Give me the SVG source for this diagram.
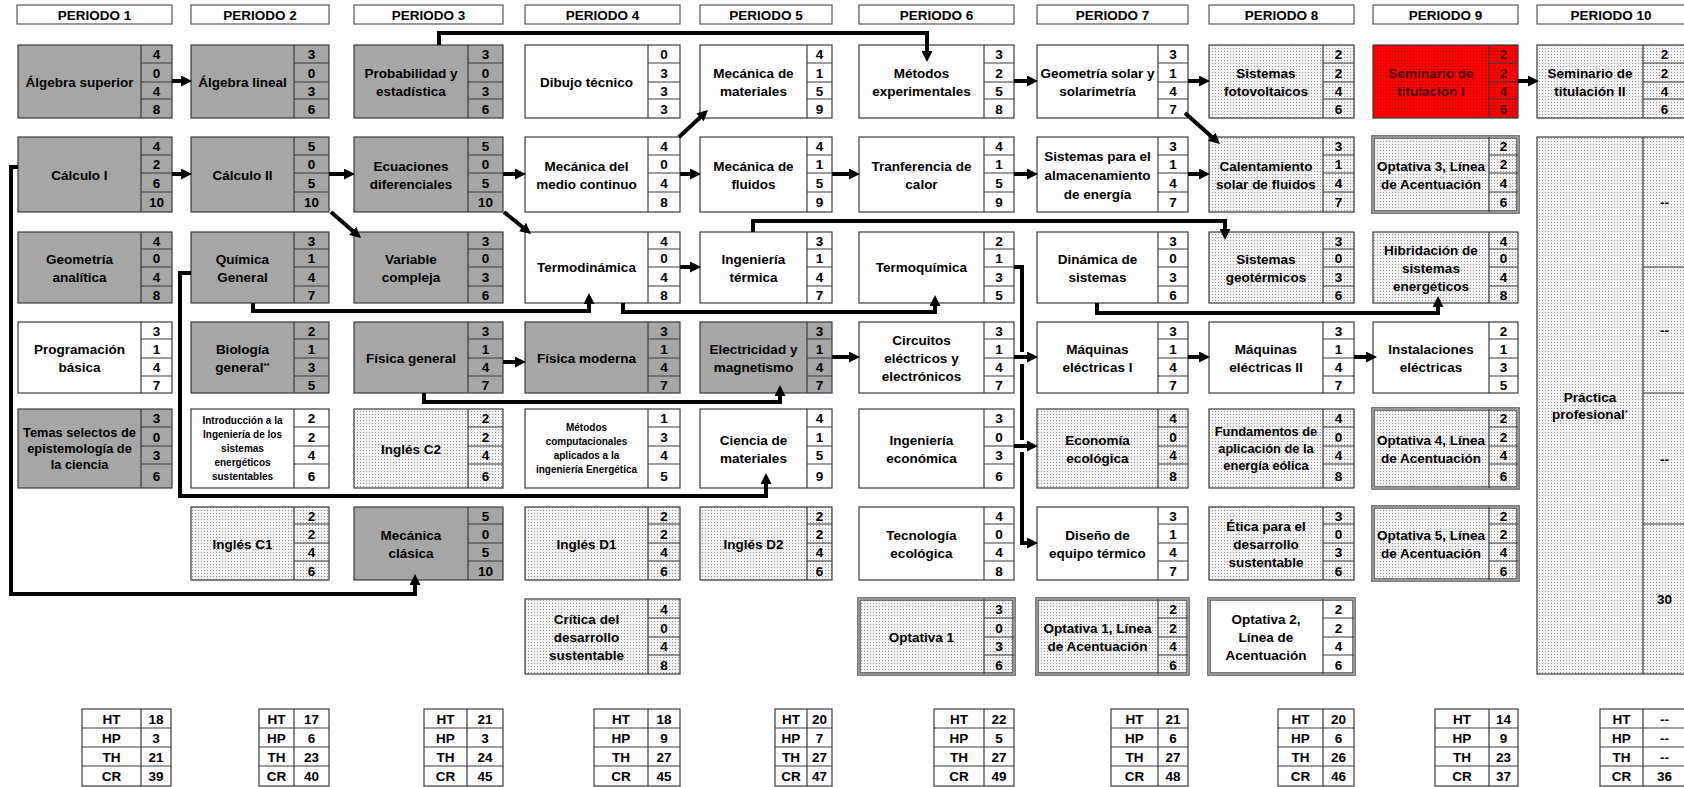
<svg xmlns="http://www.w3.org/2000/svg" width="1684" height="787" viewBox="0 0 1684 787">
<defs>
<pattern id="dots" width="3" height="3" patternUnits="userSpaceOnUse"><rect width="3" height="3" fill="#f3f3f3"/><rect width="1" height="1" fill="#939393"/></pattern>
<pattern id="reddots" width="3" height="3" patternUnits="userSpaceOnUse"><rect width="3" height="3" fill="#ff0000"/><rect width="1" height="1" fill="#b00000"/></pattern>
<marker id="ah" markerUnits="userSpaceOnUse" viewBox="0 0 11 11" markerWidth="11" markerHeight="11" refX="7" refY="5.5" orient="auto"><path d="M0 0L11 5.5L0 11z" fill="#000"/></marker>
</defs>
<style>
text{font-family:"Liberation Sans",Arial,Helvetica,sans-serif;font-weight:bold;font-size:13.5px;text-anchor:middle;fill:#000}
.sm{font-size:10px}
.md{font-size:12.8px}
.rt{fill:#4a0000}
.b{stroke:#3a3a3a;stroke-width:1.2}
.g{fill:#a6a6a6}
.w{fill:#fff}
.d{fill:url(#dots)}
.r{fill:url(#reddots)}
.grid{fill:none;stroke:#3a3a3a;stroke-width:1.2}
.dbl{stroke:#5a5a5a;stroke-width:3.6}
.dbl2{fill:none;stroke:#c4c4c4;stroke-width:1.1}
.hd{fill:#fff;stroke:#555;stroke-width:1.2}
.st{fill:#fff;stroke:#3a3a3a;stroke-width:1.2}
.conn path{fill:none;stroke:#000;stroke-width:4;stroke-linejoin:miter}
.conn .a{marker-end:url(#ah)}
</style>
<rect width="1684" height="787" fill="#fff"/>

<g id="headers">
<g id="periodo-1"><rect class="hd" x="17" y="5" width="155" height="19"/><text x="94.5" y="19.5">PERIODO 1</text></g>
<g id="periodo-2"><rect class="hd" x="191" y="5" width="138" height="19"/><text x="260" y="19.5">PERIODO 2</text></g>
<g id="periodo-3"><rect class="hd" x="354" y="5" width="149" height="19"/><text x="428.5" y="19.5">PERIODO 3</text></g>
<g id="periodo-4"><rect class="hd" x="525" y="5" width="155" height="19"/><text x="602.5" y="19.5">PERIODO 4</text></g>
<g id="periodo-5"><rect class="hd" x="700" y="5" width="132" height="19"/><text x="766" y="19.5">PERIODO 5</text></g>
<g id="periodo-6"><rect class="hd" x="859" y="5" width="155" height="19"/><text x="936.5" y="19.5">PERIODO 6</text></g>
<g id="periodo-7"><rect class="hd" x="1037" y="5" width="151" height="19"/><text x="1112.5" y="19.5">PERIODO 7</text></g>
<g id="periodo-8"><rect class="hd" x="1209" y="5" width="145" height="19"/><text x="1281.5" y="19.5">PERIODO 8</text></g>
<g id="periodo-9"><rect class="hd" x="1373" y="5" width="145" height="19"/><text x="1445.5" y="19.5">PERIODO 9</text></g>
<g id="periodo-10"><rect class="hd" x="1537" y="5" width="148" height="19"/><text x="1611" y="19.5">PERIODO 10</text></g>
</g>

<!-- Column 1 -->
<g id="algebra-superior"><rect class="b g" x="18" y="45" width="154" height="73"/><path class="grid" d="M141 45V118M141 63H172M141 82H172M141 99H172"/><text x="79.5" y="86.5">Álgebra superior</text><text><tspan x="156.5" y="59">4</tspan><tspan x="156.5" y="77.5">0</tspan><tspan x="156.5" y="95.5">4</tspan><tspan x="156.5" y="113.5">8</tspan></text></g>
<g id="calculo-1"><rect class="b g" x="18" y="137" width="154" height="75"/><path class="grid" d="M141 137V212M141 155H172M141 173H172M141 192H172"/><text x="79.5" y="179.5">Cálculo I</text><text><tspan x="156.5" y="151">4</tspan><tspan x="156.5" y="169">2</tspan><tspan x="156.5" y="187.5">6</tspan><tspan x="156.5" y="207">10</tspan></text></g>
<g id="geometria-analitica"><rect class="b g" x="18" y="232" width="154" height="71"/><path class="grid" d="M141 232V303M141 249H172M141 267H172M141 286H172"/><text><tspan x="79.5" y="263.5">Geometría</tspan><tspan x="79.5" y="281.5">analítica</tspan></text><text><tspan x="156.5" y="245.5">4</tspan><tspan x="156.5" y="263">0</tspan><tspan x="156.5" y="281.5">4</tspan><tspan x="156.5" y="299.5">8</tspan></text></g>
<g id="programacion-basica"><rect class="b w" x="18" y="322" width="154" height="71"/><path class="grid" d="M141 322V393M141 339H172M141 358H172M141 376H172"/><text><tspan x="79.5" y="353.5">Programación</tspan><tspan x="79.5" y="371.5">básica</tspan></text><text><tspan x="156.5" y="335.5">3</tspan><tspan x="156.5" y="353.5">1</tspan><tspan x="156.5" y="372">4</tspan><tspan x="156.5" y="389.5">7</tspan></text></g>
<g id="temas-selectos"><rect class="b g" x="18" y="409" width="154" height="79"/><path class="grid" d="M141 409V488M141 427H172M141 446H172M141 464H172"/><text class="md"><tspan x="79.5" y="436.6">Temas selectos de</tspan><tspan x="79.5" y="452.6">epistemología de</tspan><tspan x="79.5" y="468.6">la ciencia</tspan></text><text><tspan x="156.5" y="423">3</tspan><tspan x="156.5" y="441.5">0</tspan><tspan x="156.5" y="460">3</tspan><tspan x="156.5" y="481">6</tspan></text></g>

<!-- Column 2 -->
<g id="algebra-lineal"><rect class="b g" x="191" y="45" width="138" height="73"/><path class="grid" d="M294 45V118M294 63H329M294 82H329M294 99H329"/><text x="242.5" y="86.5">Álgebra lineal</text><text><tspan x="311.5" y="59">3</tspan><tspan x="311.5" y="77.5">0</tspan><tspan x="311.5" y="95.5">3</tspan><tspan x="311.5" y="113.5">6</tspan></text></g>
<g id="calculo-2"><rect class="b g" x="191" y="137" width="138" height="75"/><path class="grid" d="M294 137V212M294 155H329M294 173H329M294 192H329"/><text x="242.5" y="179.5">Cálculo II</text><text><tspan x="311.5" y="151">5</tspan><tspan x="311.5" y="169">0</tspan><tspan x="311.5" y="187.5">5</tspan><tspan x="311.5" y="207">10</tspan></text></g>
<g id="quimica-general"><rect class="b g" x="191" y="232" width="138" height="71"/><path class="grid" d="M294 232V303M294 249H329M294 267H329M294 286H329"/><text><tspan x="242.5" y="263.5">Química</tspan><tspan x="242.5" y="281.5">General</tspan></text><text><tspan x="311.5" y="245.5">3</tspan><tspan x="311.5" y="263">1</tspan><tspan x="311.5" y="281.5">4</tspan><tspan x="311.5" y="299.5">7</tspan></text></g>
<g id="biologia-general"><rect class="b g" x="191" y="322" width="138" height="71"/><path class="grid" d="M294 322V393M294 339H329M294 358H329M294 376H329"/><text><tspan x="242.5" y="353.5">Biología</tspan><tspan x="242.5" y="371.5">general<tspan font-size="8" dy="-4">**</tspan></tspan></text><text><tspan x="311.5" y="335.5">2</tspan><tspan x="311.5" y="353.5">1</tspan><tspan x="311.5" y="372">3</tspan><tspan x="311.5" y="389.5">5</tspan></text></g>
<g id="introduccion-ingenieria"><rect class="b w" x="191" y="409" width="138" height="79"/><path class="grid" d="M294 409V488M294 427H329M294 446H329M294 464H329"/><text class="sm"><tspan x="242.5" y="423.6">Introducción a la</tspan><tspan x="242.5" y="437.6">Ingeniería de los</tspan><tspan x="242.5" y="451.6">sistemas</tspan><tspan x="242.5" y="465.6">energéticos</tspan><tspan x="242.5" y="479.6">sustentables</tspan></text><text><tspan x="311.5" y="423">2</tspan><tspan x="311.5" y="441.5">2</tspan><tspan x="311.5" y="460">4</tspan><tspan x="311.5" y="481">6</tspan></text></g>
<g id="ingles-c1"><rect class="b d" x="191" y="507" width="138" height="73"/><path class="grid" d="M294 507V580M294 524H329M294 543H329M294 561H329"/><text x="242.5" y="548.5">Inglés C1</text><text><tspan x="311.5" y="520.5">2</tspan><tspan x="311.5" y="538.5">2</tspan><tspan x="311.5" y="557">4</tspan><tspan x="311.5" y="575.5">6</tspan></text></g>

<!-- Column 3 -->
<g id="probabilidad-estadistica"><rect class="b g" x="354" y="45" width="149" height="73"/><path class="grid" d="M468 45V118M468 63H503M468 82H503M468 99H503"/><text><tspan x="411" y="77.5">Probabilidad y</tspan><tspan x="411" y="95.5">estadística</tspan></text><text><tspan x="485.5" y="59">3</tspan><tspan x="485.5" y="77.5">0</tspan><tspan x="485.5" y="95.5">3</tspan><tspan x="485.5" y="113.5">6</tspan></text></g>
<g id="ecuaciones-diferenciales"><rect class="b g" x="354" y="137" width="149" height="75"/><path class="grid" d="M468 137V212M468 155H503M468 173H503M468 192H503"/><text><tspan x="411" y="170.5">Ecuaciones</tspan><tspan x="411" y="188.5">diferenciales</tspan></text><text><tspan x="485.5" y="151">5</tspan><tspan x="485.5" y="169">0</tspan><tspan x="485.5" y="187.5">5</tspan><tspan x="485.5" y="207">10</tspan></text></g>
<g id="variable-compleja"><rect class="b g" x="354" y="232" width="149" height="71"/><path class="grid" d="M468 232V303M468 249H503M468 267H503M468 286H503"/><text><tspan x="411" y="263.5">Variable</tspan><tspan x="411" y="281.5">compleja</tspan></text><text><tspan x="485.5" y="245.5">3</tspan><tspan x="485.5" y="263">0</tspan><tspan x="485.5" y="281.5">3</tspan><tspan x="485.5" y="299.5">6</tspan></text></g>
<g id="fisica-general"><rect class="b g" x="354" y="322" width="149" height="71"/><path class="grid" d="M468 322V393M468 339H503M468 358H503M468 376H503"/><text x="411" y="362.5">Física general</text><text><tspan x="485.5" y="335.5">3</tspan><tspan x="485.5" y="353.5">1</tspan><tspan x="485.5" y="372">4</tspan><tspan x="485.5" y="389.5">7</tspan></text></g>
<g id="ingles-c2"><rect class="b d" x="354" y="409" width="149" height="79"/><path class="grid" d="M468 409V488M468 427H503M468 446H503M468 464H503"/><text x="411" y="453.5">Inglés C2</text><text><tspan x="485.5" y="423">2</tspan><tspan x="485.5" y="441.5">2</tspan><tspan x="485.5" y="460">4</tspan><tspan x="485.5" y="481">6</tspan></text></g>
<g id="mecanica-clasica"><rect class="b g" x="354" y="507" width="149" height="73"/><path class="grid" d="M468 507V580M468 524H503M468 543H503M468 561H503"/><text><tspan x="411" y="539.5">Mecánica</tspan><tspan x="411" y="557.5">clásica</tspan></text><text><tspan x="485.5" y="520.5">5</tspan><tspan x="485.5" y="538.5">0</tspan><tspan x="485.5" y="557">5</tspan><tspan x="485.5" y="575.5">10</tspan></text></g>

<!-- Column 4 -->
<g id="dibujo-tecnico"><rect class="b w" x="525" y="45" width="155" height="73"/><path class="grid" d="M648 45V118M648 63H680M648 82H680M648 99H680"/><text x="586.5" y="86.5">Dibujo técnico</text><text><tspan x="664" y="59">0</tspan><tspan x="664" y="77.5">3</tspan><tspan x="664" y="95.5">3</tspan><tspan x="664" y="113.5">3</tspan></text></g>
<g id="mecanica-medio-continuo"><rect class="b w" x="525" y="137" width="155" height="75"/><path class="grid" d="M648 137V212M648 155H680M648 173H680M648 192H680"/><text><tspan x="586.5" y="170.5">Mecánica del</tspan><tspan x="586.5" y="188.5">medio continuo</tspan></text><text><tspan x="664" y="151">4</tspan><tspan x="664" y="169">0</tspan><tspan x="664" y="187.5">4</tspan><tspan x="664" y="207">8</tspan></text></g>
<g id="termodinamica"><rect class="b w" x="525" y="232" width="155" height="71"/><path class="grid" d="M648 232V303M648 249H680M648 267H680M648 286H680"/><text x="586.5" y="272">Termodinámica</text><text><tspan x="664" y="245.5">4</tspan><tspan x="664" y="263">0</tspan><tspan x="664" y="281.5">4</tspan><tspan x="664" y="299.5">8</tspan></text></g>
<g id="fisica-moderna"><rect class="b g" x="525" y="322" width="155" height="71"/><path class="grid" d="M648 322V393M648 339H680M648 358H680M648 376H680"/><text x="586.5" y="362.5">Física moderna</text><text><tspan x="664" y="335.5">3</tspan><tspan x="664" y="353.5">1</tspan><tspan x="664" y="372">4</tspan><tspan x="664" y="389.5">7</tspan></text></g>
<g id="metodos-computacionales"><rect class="b w" x="525" y="409" width="155" height="79"/><path class="grid" d="M648 409V488M648 427H680M648 446H680M648 464H680"/><text class="sm"><tspan x="586.5" y="430.6">Métodos</tspan><tspan x="586.5" y="444.6">computacionales</tspan><tspan x="586.5" y="458.6">aplicados a la</tspan><tspan x="586.5" y="472.6">ingeniería Energética</tspan></text><text><tspan x="664" y="423">1</tspan><tspan x="664" y="441.5">3</tspan><tspan x="664" y="460">4</tspan><tspan x="664" y="481">5</tspan></text></g>
<g id="ingles-d1"><rect class="b d" x="525" y="507" width="155" height="73"/><path class="grid" d="M648 507V580M648 524H680M648 543H680M648 561H680"/><text x="586.5" y="548.5">Inglés D1</text><text><tspan x="664" y="520.5">2</tspan><tspan x="664" y="538.5">2</tspan><tspan x="664" y="557">4</tspan><tspan x="664" y="575.5">6</tspan></text></g>
<g id="critica-desarrollo"><rect class="b d" x="525" y="599" width="155" height="75"/><path class="grid" d="M648 599V674M648 618H680M648 637H680M648 655H680"/><text><tspan x="586.5" y="623.5">Crítica del</tspan><tspan x="586.5" y="641.5">desarrollo</tspan><tspan x="586.5" y="659.5">sustentable</tspan></text><text><tspan x="664" y="613.5">4</tspan><tspan x="664" y="632.5">0</tspan><tspan x="664" y="651">4</tspan><tspan x="664" y="669.5">8</tspan></text></g>

<!-- Column 5 -->
<g id="mecanica-materiales"><rect class="b w" x="700" y="45" width="132" height="73"/><path class="grid" d="M807 45V118M807 63H832M807 82H832M807 99H832"/><text><tspan x="753.5" y="77.5">Mecánica de</tspan><tspan x="753.5" y="95.5">materiales</tspan></text><text><tspan x="819.5" y="59">4</tspan><tspan x="819.5" y="77.5">1</tspan><tspan x="819.5" y="95.5">5</tspan><tspan x="819.5" y="113.5">9</tspan></text></g>
<g id="mecanica-fluidos"><rect class="b w" x="700" y="137" width="132" height="75"/><path class="grid" d="M807 137V212M807 155H832M807 173H832M807 192H832"/><text><tspan x="753.5" y="170.5">Mecánica de</tspan><tspan x="753.5" y="188.5">fluidos</tspan></text><text><tspan x="819.5" y="151">4</tspan><tspan x="819.5" y="169">1</tspan><tspan x="819.5" y="187.5">5</tspan><tspan x="819.5" y="207">9</tspan></text></g>
<g id="ingenieria-termica"><rect class="b w" x="700" y="232" width="132" height="71"/><path class="grid" d="M807 232V303M807 249H832M807 267H832M807 286H832"/><text><tspan x="753.5" y="263.5">Ingeniería</tspan><tspan x="753.5" y="281.5">térmica</tspan></text><text><tspan x="819.5" y="245.5">3</tspan><tspan x="819.5" y="263">1</tspan><tspan x="819.5" y="281.5">4</tspan><tspan x="819.5" y="299.5">7</tspan></text></g>
<g id="electricidad-magnetismo"><rect class="b g" x="700" y="322" width="132" height="71"/><path class="grid" d="M807 322V393M807 339H832M807 358H832M807 376H832"/><text><tspan x="753.5" y="353.5">Electricidad y</tspan><tspan x="753.5" y="371.5">magnetismo</tspan></text><text><tspan x="819.5" y="335.5">3</tspan><tspan x="819.5" y="353.5">1</tspan><tspan x="819.5" y="372">4</tspan><tspan x="819.5" y="389.5">7</tspan></text></g>
<g id="ciencia-materiales"><rect class="b w" x="700" y="409" width="132" height="79"/><path class="grid" d="M807 409V488M807 427H832M807 446H832M807 464H832"/><text><tspan x="753.5" y="444.5">Ciencia de</tspan><tspan x="753.5" y="462.5">materiales</tspan></text><text><tspan x="819.5" y="423">4</tspan><tspan x="819.5" y="441.5">1</tspan><tspan x="819.5" y="460">5</tspan><tspan x="819.5" y="481">9</tspan></text></g>
<g id="ingles-d2"><rect class="b d" x="700" y="507" width="132" height="73"/><path class="grid" d="M807 507V580M807 524H832M807 543H832M807 561H832"/><text x="753.5" y="548.5">Inglés D2</text><text><tspan x="819.5" y="520.5">2</tspan><tspan x="819.5" y="538.5">2</tspan><tspan x="819.5" y="557">4</tspan><tspan x="819.5" y="575.5">6</tspan></text></g>

<!-- Column 6 -->
<g id="metodos-experimentales"><rect class="b w" x="859" y="45" width="155" height="73"/><path class="grid" d="M984 45V118M984 63H1014M984 82H1014M984 99H1014"/><text><tspan x="921.5" y="77.5">Métodos</tspan><tspan x="921.5" y="95.5">experimentales</tspan></text><text><tspan x="999" y="59">3</tspan><tspan x="999" y="77.5">2</tspan><tspan x="999" y="95.5">5</tspan><tspan x="999" y="113.5">8</tspan></text></g>
<g id="transferencia-calor"><rect class="b w" x="859" y="137" width="155" height="75"/><path class="grid" d="M984 137V212M984 155H1014M984 173H1014M984 192H1014"/><text><tspan x="921.5" y="170.5">Tranferencia de</tspan><tspan x="921.5" y="188.5">calor</tspan></text><text><tspan x="999" y="151">4</tspan><tspan x="999" y="169">1</tspan><tspan x="999" y="187.5">5</tspan><tspan x="999" y="207">9</tspan></text></g>
<g id="termoquimica"><rect class="b w" x="859" y="232" width="155" height="71"/><path class="grid" d="M984 232V303M984 249H1014M984 267H1014M984 286H1014"/><text x="921.5" y="272">Termoquímica</text><text><tspan x="999" y="245.5">2</tspan><tspan x="999" y="263">1</tspan><tspan x="999" y="281.5">3</tspan><tspan x="999" y="299.5">5</tspan></text></g>
<g id="circuitos"><rect class="b w" x="859" y="322" width="155" height="71"/><path class="grid" d="M984 322V393M984 339H1014M984 358H1014M984 376H1014"/><text><tspan x="921.5" y="344.5">Circuitos</tspan><tspan x="921.5" y="362.5">eléctricos y</tspan><tspan x="921.5" y="380.5">electrónicos</tspan></text><text><tspan x="999" y="335.5">3</tspan><tspan x="999" y="353.5">1</tspan><tspan x="999" y="372">4</tspan><tspan x="999" y="389.5">7</tspan></text></g>
<g id="ingenieria-economica"><rect class="b w" x="859" y="409" width="155" height="79"/><path class="grid" d="M984 409V488M984 427H1014M984 446H1014M984 464H1014"/><text><tspan x="921.5" y="444.5">Ingeniería</tspan><tspan x="921.5" y="462.5">económica</tspan></text><text><tspan x="999" y="423">3</tspan><tspan x="999" y="441.5">0</tspan><tspan x="999" y="460">3</tspan><tspan x="999" y="481">6</tspan></text></g>
<g id="tecnologia-ecologica"><rect class="b w" x="859" y="507" width="155" height="73"/><path class="grid" d="M984 507V580M984 524H1014M984 543H1014M984 561H1014"/><text><tspan x="921.5" y="539.5">Tecnología</tspan><tspan x="921.5" y="557.5">ecológica</tspan></text><text><tspan x="999" y="520.5">4</tspan><tspan x="999" y="538.5">0</tspan><tspan x="999" y="557">4</tspan><tspan x="999" y="575.5">8</tspan></text></g>
<g id="optativa-1"><rect class="d dbl" x="859" y="599" width="155" height="75"/><rect class="dbl2" x="859" y="599" width="155" height="75"/><path class="grid" d="M984 599V674M984 618H1014M984 637H1014M984 655H1014"/><text x="921.5" y="641.5">Optativa 1</text><text><tspan x="999" y="613.5">3</tspan><tspan x="999" y="632.5">0</tspan><tspan x="999" y="651">3</tspan><tspan x="999" y="669.5">6</tspan></text></g>

<!-- Column 7 -->
<g id="geometria-solar"><rect class="b w" x="1037" y="45" width="151" height="73"/><path class="grid" d="M1158 45V118M1158 63H1188M1158 82H1188M1158 99H1188"/><text><tspan x="1097.5" y="77.5">Geometría solar y</tspan><tspan x="1097.5" y="95.5">solarimetría</tspan></text><text><tspan x="1173" y="59">3</tspan><tspan x="1173" y="77.5">1</tspan><tspan x="1173" y="95.5">4</tspan><tspan x="1173" y="113.5">7</tspan></text></g>
<g id="sistemas-almacenamiento"><rect class="b w" x="1037" y="137" width="151" height="75"/><path class="grid" d="M1158 137V212M1158 155H1188M1158 173H1188M1158 192H1188"/><text><tspan x="1097.5" y="160.5">Sistemas para el</tspan><tspan x="1097.5" y="179.5">almacenamiento</tspan><tspan x="1097.5" y="198.5">de energía</tspan></text><text><tspan x="1173" y="151">3</tspan><tspan x="1173" y="169">1</tspan><tspan x="1173" y="187.5">4</tspan><tspan x="1173" y="207">7</tspan></text></g>
<g id="dinamica-sistemas"><rect class="b w" x="1037" y="232" width="151" height="71"/><path class="grid" d="M1158 232V303M1158 249H1188M1158 267H1188M1158 286H1188"/><text><tspan x="1097.5" y="263.5">Dinámica de</tspan><tspan x="1097.5" y="281.5">sistemas</tspan></text><text><tspan x="1173" y="245.5">3</tspan><tspan x="1173" y="263">0</tspan><tspan x="1173" y="281.5">3</tspan><tspan x="1173" y="299.5">6</tspan></text></g>
<g id="maquinas-electricas-1"><rect class="b w" x="1037" y="322" width="151" height="71"/><path class="grid" d="M1158 322V393M1158 339H1188M1158 358H1188M1158 376H1188"/><text><tspan x="1097.5" y="353.5">Máquinas</tspan><tspan x="1097.5" y="371.5">eléctricas I</tspan></text><text><tspan x="1173" y="335.5">3</tspan><tspan x="1173" y="353.5">1</tspan><tspan x="1173" y="372">4</tspan><tspan x="1173" y="389.5">7</tspan></text></g>
<g id="economia-ecologica"><rect class="b d" x="1037" y="409" width="151" height="79"/><path class="grid" d="M1158 409V488M1158 427H1188M1158 446H1188M1158 464H1188"/><text><tspan x="1097.5" y="444.5">Economía</tspan><tspan x="1097.5" y="462.5">ecológica</tspan></text><text><tspan x="1173" y="423">4</tspan><tspan x="1173" y="441.5">0</tspan><tspan x="1173" y="460">4</tspan><tspan x="1173" y="481">8</tspan></text></g>
<g id="diseno-equipo-termico"><rect class="b w" x="1037" y="507" width="151" height="73"/><path class="grid" d="M1158 507V580M1158 524H1188M1158 543H1188M1158 561H1188"/><text><tspan x="1097.5" y="539.5">Diseño de</tspan><tspan x="1097.5" y="557.5">equipo térmico</tspan></text><text><tspan x="1173" y="520.5">3</tspan><tspan x="1173" y="538.5">1</tspan><tspan x="1173" y="557">4</tspan><tspan x="1173" y="575.5">7</tspan></text></g>
<g id="optativa-1-linea"><rect class="d dbl" x="1037" y="599" width="151" height="75"/><rect class="dbl2" x="1037" y="599" width="151" height="75"/><path class="grid" d="M1158 599V674M1158 618H1188M1158 637H1188M1158 655H1188"/><text><tspan x="1097.5" y="632.5">Optativa 1, Línea</tspan><tspan x="1097.5" y="650.5">de Acentuación</tspan></text><text><tspan x="1173" y="613.5">2</tspan><tspan x="1173" y="632.5">2</tspan><tspan x="1173" y="651">4</tspan><tspan x="1173" y="669.5">6</tspan></text></g>

<!-- Column 8 -->
<g id="sistemas-fotovoltaicos"><rect class="b d" x="1209" y="45" width="145" height="73"/><path class="grid" d="M1323 45V118M1323 63H1354M1323 82H1354M1323 99H1354"/><text><tspan x="1266" y="77.5">Sistemas</tspan><tspan x="1266" y="95.5">fotovoltaicos</tspan></text><text><tspan x="1338.5" y="59">2</tspan><tspan x="1338.5" y="77.5">2</tspan><tspan x="1338.5" y="95.5">4</tspan><tspan x="1338.5" y="113.5">6</tspan></text></g>
<g id="calentamiento-solar"><rect class="b d" x="1209" y="137" width="145" height="75"/><path class="grid" d="M1323 137V212M1323 155H1354M1323 173H1354M1323 192H1354"/><text><tspan x="1266" y="170.5">Calentamiento</tspan><tspan x="1266" y="188.5">solar de fluidos</tspan></text><text><tspan x="1338.5" y="151">3</tspan><tspan x="1338.5" y="169">1</tspan><tspan x="1338.5" y="187.5">4</tspan><tspan x="1338.5" y="207">7</tspan></text></g>
<g id="sistemas-geotermicos"><rect class="b d" x="1209" y="232" width="145" height="71"/><path class="grid" d="M1323 232V303M1323 249H1354M1323 267H1354M1323 286H1354"/><text><tspan x="1266" y="263.5">Sistemas</tspan><tspan x="1266" y="281.5">geotérmicos</tspan></text><text><tspan x="1338.5" y="245.5">3</tspan><tspan x="1338.5" y="263">0</tspan><tspan x="1338.5" y="281.5">3</tspan><tspan x="1338.5" y="299.5">6</tspan></text></g>
<g id="maquinas-electricas-2"><rect class="b w" x="1209" y="322" width="145" height="71"/><path class="grid" d="M1323 322V393M1323 339H1354M1323 358H1354M1323 376H1354"/><text><tspan x="1266" y="353.5">Máquinas</tspan><tspan x="1266" y="371.5">eléctricas II</tspan></text><text><tspan x="1338.5" y="335.5">3</tspan><tspan x="1338.5" y="353.5">1</tspan><tspan x="1338.5" y="372">4</tspan><tspan x="1338.5" y="389.5">7</tspan></text></g>
<g id="fundamentos-eolica"><rect class="b d" x="1209" y="409" width="145" height="79"/><path class="grid" d="M1323 409V488M1323 427H1354M1323 446H1354M1323 464H1354"/><text class="md"><tspan x="1266" y="435.6">Fundamentos de</tspan><tspan x="1266" y="452.6">aplicación de la</tspan><tspan x="1266" y="469.6">energía eólica</tspan></text><text><tspan x="1338.5" y="423">4</tspan><tspan x="1338.5" y="441.5">0</tspan><tspan x="1338.5" y="460">4</tspan><tspan x="1338.5" y="481">8</tspan></text></g>
<g id="etica-desarrollo"><rect class="b d" x="1209" y="507" width="145" height="73"/><path class="grid" d="M1323 507V580M1323 524H1354M1323 543H1354M1323 561H1354"/><text><tspan x="1266" y="530.5">Ética para el</tspan><tspan x="1266" y="548.5">desarrollo</tspan><tspan x="1266" y="566.5">sustentable</tspan></text><text><tspan x="1338.5" y="520.5">3</tspan><tspan x="1338.5" y="538.5">0</tspan><tspan x="1338.5" y="557">3</tspan><tspan x="1338.5" y="575.5">6</tspan></text></g>
<g id="optativa-2"><rect class="w dbl" x="1209" y="599" width="145" height="75"/><rect class="dbl2" x="1209" y="599" width="145" height="75"/><path class="grid" d="M1323 599V674M1323 618H1354M1323 637H1354M1323 655H1354"/><text><tspan x="1266" y="623.5">Optativa 2,</tspan><tspan x="1266" y="641.5">Línea de</tspan><tspan x="1266" y="659.5">Acentuación</tspan></text><text><tspan x="1338.5" y="613.5">2</tspan><tspan x="1338.5" y="632.5">2</tspan><tspan x="1338.5" y="651">4</tspan><tspan x="1338.5" y="669.5">6</tspan></text></g>

<!-- Column 9 -->
<g id="seminario-titulacion-1"><rect class="b r" x="1373" y="45" width="145" height="73"/><path class="grid" d="M1489 45V118M1489 63H1518M1489 82H1518M1489 99H1518"/><text class="rt"><tspan x="1431" y="77.5">Seminario de</tspan><tspan x="1431" y="95.5">titulación I</tspan></text><text class="rt"><tspan x="1503.5" y="59">2</tspan><tspan x="1503.5" y="77.5">2</tspan><tspan x="1503.5" y="95.5">4</tspan><tspan x="1503.5" y="113.5">6</tspan></text></g>
<g id="optativa-3"><rect class="d dbl" x="1373" y="137" width="145" height="75"/><rect class="dbl2" x="1373" y="137" width="145" height="75"/><path class="grid" d="M1489 137V212M1489 155H1518M1489 173H1518M1489 192H1518"/><text><tspan x="1431" y="170.5">Optativa 3, Línea</tspan><tspan x="1431" y="188.5">de Acentuación</tspan></text><text><tspan x="1503.5" y="151">2</tspan><tspan x="1503.5" y="169">2</tspan><tspan x="1503.5" y="187.5">4</tspan><tspan x="1503.5" y="207">6</tspan></text></g>
<g id="hibridacion"><rect class="b d" x="1373" y="232" width="145" height="71"/><path class="grid" d="M1489 232V303M1489 249H1518M1489 267H1518M1489 286H1518"/><text><tspan x="1431" y="254.5">Hibridación de</tspan><tspan x="1431" y="272.5">sistemas</tspan><tspan x="1431" y="290.5">energéticos</tspan></text><text><tspan x="1503.5" y="245.5">4</tspan><tspan x="1503.5" y="263">0</tspan><tspan x="1503.5" y="281.5">4</tspan><tspan x="1503.5" y="299.5">8</tspan></text></g>
<g id="instalaciones-electricas"><rect class="b w" x="1373" y="322" width="145" height="71"/><path class="grid" d="M1489 322V393M1489 339H1518M1489 358H1518M1489 376H1518"/><text><tspan x="1431" y="353.5">Instalaciones</tspan><tspan x="1431" y="371.5">eléctricas</tspan></text><text><tspan x="1503.5" y="335.5">2</tspan><tspan x="1503.5" y="353.5">1</tspan><tspan x="1503.5" y="372">3</tspan><tspan x="1503.5" y="389.5">5</tspan></text></g>
<g id="optativa-4"><rect class="d dbl" x="1373" y="409" width="145" height="79"/><rect class="dbl2" x="1373" y="409" width="145" height="79"/><path class="grid" d="M1489 409V488M1489 427H1518M1489 446H1518M1489 464H1518"/><text><tspan x="1431" y="444.5">Optativa 4, Línea</tspan><tspan x="1431" y="462.5">de Acentuación</tspan></text><text><tspan x="1503.5" y="423">2</tspan><tspan x="1503.5" y="441.5">2</tspan><tspan x="1503.5" y="460">4</tspan><tspan x="1503.5" y="481">6</tspan></text></g>
<g id="optativa-5"><rect class="d dbl" x="1373" y="507" width="145" height="73"/><rect class="dbl2" x="1373" y="507" width="145" height="73"/><path class="grid" d="M1489 507V580M1489 524H1518M1489 543H1518M1489 561H1518"/><text><tspan x="1431" y="539.5">Optativa 5, Línea</tspan><tspan x="1431" y="557.5">de Acentuación</tspan></text><text><tspan x="1503.5" y="520.5">2</tspan><tspan x="1503.5" y="538.5">2</tspan><tspan x="1503.5" y="557">4</tspan><tspan x="1503.5" y="575.5">6</tspan></text></g>

<!-- Column 10 -->
<g id="seminario-titulacion-2"><rect class="b d" x="1537" y="45" width="149" height="73"/><path class="grid" d="M1643 45V118M1643 63H1686M1643 82H1686M1643 99H1686"/><text><tspan x="1590" y="77.5">Seminario de</tspan><tspan x="1590" y="95.5">titulación II</tspan></text><text><tspan x="1664.5" y="59">2</tspan><tspan x="1664.5" y="77.5">2</tspan><tspan x="1664.5" y="95.5">4</tspan><tspan x="1664.5" y="113.5">6</tspan></text></g>
<g id="practica-profesional"><rect class="b d" x="1537" y="137" width="149" height="537"/><path class="grid" d="M1643 137V674M1643 267H1686M1643 393H1686M1643 524H1686"/><text><tspan x="1590" y="402">Práctica</tspan><tspan x="1590" y="419">profesional<tspan font-size="8" dy="-4">*</tspan></tspan></text><text><tspan x="1664.5" y="207">--</tspan><tspan x="1664.5" y="335">--</tspan><tspan x="1664.5" y="463.5">--</tspan><tspan x="1664.5" y="604">30</tspan></text></g>

<!-- Totals -->
<g id="totales-1"><rect class="st" x="82" y="709" width="89" height="77"/><path class="grid" d="M141 709V786M82 728H171M82 747H171M82 766H171"/><text><tspan x="111.5" y="723.5">HT</tspan><tspan x="111.5" y="742.5">HP</tspan><tspan x="111.5" y="761.5">TH</tspan><tspan x="111.5" y="781">CR</tspan><tspan x="156" y="723.5">18</tspan><tspan x="156" y="742.5">3</tspan><tspan x="156" y="761.5">21</tspan><tspan x="156" y="781">39</tspan></text></g>
<g id="totales-2"><rect class="st" x="259" y="709" width="70" height="77"/><path class="grid" d="M294 709V786M259 728H329M259 747H329M259 766H329"/><text><tspan x="276.5" y="723.5">HT</tspan><tspan x="276.5" y="742.5">HP</tspan><tspan x="276.5" y="761.5">TH</tspan><tspan x="276.5" y="781">CR</tspan><tspan x="311.5" y="723.5">17</tspan><tspan x="311.5" y="742.5">6</tspan><tspan x="311.5" y="761.5">23</tspan><tspan x="311.5" y="781">40</tspan></text></g>
<g id="totales-3"><rect class="st" x="424" y="709" width="79" height="77"/><path class="grid" d="M467 709V786M424 728H503M424 747H503M424 766H503"/><text><tspan x="445.5" y="723.5">HT</tspan><tspan x="445.5" y="742.5">HP</tspan><tspan x="445.5" y="761.5">TH</tspan><tspan x="445.5" y="781">CR</tspan><tspan x="485" y="723.5">21</tspan><tspan x="485" y="742.5">3</tspan><tspan x="485" y="761.5">24</tspan><tspan x="485" y="781">45</tspan></text></g>
<g id="totales-4"><rect class="st" x="594" y="709" width="86" height="77"/><path class="grid" d="M648 709V786M594 728H680M594 747H680M594 766H680"/><text><tspan x="621" y="723.5">HT</tspan><tspan x="621" y="742.5">HP</tspan><tspan x="621" y="761.5">TH</tspan><tspan x="621" y="781">CR</tspan><tspan x="664" y="723.5">18</tspan><tspan x="664" y="742.5">9</tspan><tspan x="664" y="761.5">27</tspan><tspan x="664" y="781">45</tspan></text></g>
<g id="totales-5"><rect class="st" x="775" y="709" width="57" height="77"/><path class="grid" d="M807 709V786M775 728H832M775 747H832M775 766H832"/><text><tspan x="791" y="723.5">HT</tspan><tspan x="791" y="742.5">HP</tspan><tspan x="791" y="761.5">TH</tspan><tspan x="791" y="781">CR</tspan><tspan x="819.5" y="723.5">20</tspan><tspan x="819.5" y="742.5">7</tspan><tspan x="819.5" y="761.5">27</tspan><tspan x="819.5" y="781">47</tspan></text></g>
<g id="totales-6"><rect class="st" x="934" y="709" width="80" height="77"/><path class="grid" d="M984 709V786M934 728H1014M934 747H1014M934 766H1014"/><text><tspan x="959" y="723.5">HT</tspan><tspan x="959" y="742.5">HP</tspan><tspan x="959" y="761.5">TH</tspan><tspan x="959" y="781">CR</tspan><tspan x="999" y="723.5">22</tspan><tspan x="999" y="742.5">5</tspan><tspan x="999" y="761.5">27</tspan><tspan x="999" y="781">49</tspan></text></g>
<g id="totales-7"><rect class="st" x="1111" y="709" width="77" height="77"/><path class="grid" d="M1158 709V786M1111 728H1188M1111 747H1188M1111 766H1188"/><text><tspan x="1134.5" y="723.5">HT</tspan><tspan x="1134.5" y="742.5">HP</tspan><tspan x="1134.5" y="761.5">TH</tspan><tspan x="1134.5" y="781">CR</tspan><tspan x="1173" y="723.5">21</tspan><tspan x="1173" y="742.5">6</tspan><tspan x="1173" y="761.5">27</tspan><tspan x="1173" y="781">48</tspan></text></g>
<g id="totales-8"><rect class="st" x="1278" y="709" width="76" height="77"/><path class="grid" d="M1323 709V786M1278 728H1354M1278 747H1354M1278 766H1354"/><text><tspan x="1300.5" y="723.5">HT</tspan><tspan x="1300.5" y="742.5">HP</tspan><tspan x="1300.5" y="761.5">TH</tspan><tspan x="1300.5" y="781">CR</tspan><tspan x="1338.5" y="723.5">20</tspan><tspan x="1338.5" y="742.5">6</tspan><tspan x="1338.5" y="761.5">26</tspan><tspan x="1338.5" y="781">46</tspan></text></g>
<g id="totales-9"><rect class="st" x="1435" y="709" width="83" height="77"/><path class="grid" d="M1489 709V786M1435 728H1518M1435 747H1518M1435 766H1518"/><text><tspan x="1462" y="723.5">HT</tspan><tspan x="1462" y="742.5">HP</tspan><tspan x="1462" y="761.5">TH</tspan><tspan x="1462" y="781">CR</tspan><tspan x="1503.5" y="723.5">14</tspan><tspan x="1503.5" y="742.5">9</tspan><tspan x="1503.5" y="761.5">23</tspan><tspan x="1503.5" y="781">37</tspan></text></g>
<g id="totales-10"><rect class="st" x="1600" y="709" width="86" height="77"/><path class="grid" d="M1643 709V786M1600 728H1686M1600 747H1686M1600 766H1686"/><text><tspan x="1621.5" y="723.5">HT</tspan><tspan x="1621.5" y="742.5">HP</tspan><tspan x="1621.5" y="761.5">TH</tspan><tspan x="1621.5" y="781">CR</tspan><tspan x="1664.5" y="723.5">--</tspan><tspan x="1664.5" y="742.5">--</tspan><tspan x="1664.5" y="761.5">--</tspan><tspan x="1664.5" y="781">36</tspan></text></g>

<g id="connectors" class="conn">
<path class="a" d="M172 81H188"/>
<path class="a" d="M172 174H188"/>
<path class="a" d="M329 174H351"/>
<path class="a" d="M331 212L358 235.4"/>
<path class="a" d="M439 45V33H927V58"/>
<path class="a" d="M503 174H522"/>
<path class="a" d="M504 212L527.9 231.5"/>
<path class="a" d="M679 137L705.1 112.7"/>
<path class="a" d="M680 174H697"/>
<path class="a" d="M832 174H856"/>
<path class="a" d="M753 232V221H1225V236"/>
<path class="a" d="M680 267H697"/>
<path class="a" d="M1014 81H1034"/>
<path class="a" d="M1014 174H1034"/>
<path class="a" d="M1188 81H1206"/>
<path class="a" d="M1185 113L1217 141.4"/>
<path class="a" d="M1188 174H1206"/>
<path class="a" d="M1518 81H1535"/>
<path class="a" d="M253 303V311H589V297"/>
<path class="a" d="M623 303V312H935V299"/>
<path class="a" d="M1097 303V313H1438V300"/>
<path class="a" d="M503 362H522"/>
<path class="a" d="M424 393V402H780V389"/>
<path class="a" d="M832 357H856"/>
<path d="M1014 267H1022V352"/>
<path d="M1022 364V440"/>
<path class="a" d="M1022 452V543H1034"/>
<path class="a" d="M1014 357H1034"/>
<path class="a" d="M1014 446H1034"/>
<path class="a" d="M1188 357H1206"/>
<path class="a" d="M1354 357H1373"/>
<path class="a" d="M191 273H180V496H766V477"/>
<path class="a" d="M18 167H11V594H415V578"/>
</g>
</svg>
